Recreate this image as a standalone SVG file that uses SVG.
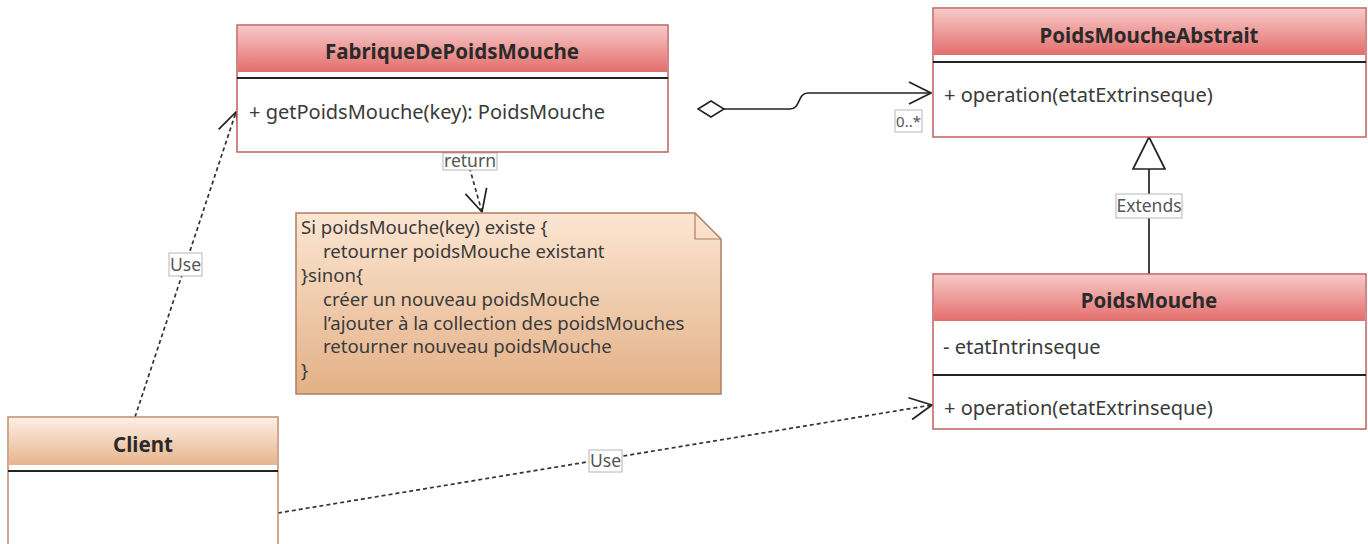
<svg xmlns="http://www.w3.org/2000/svg" width="1368" height="544" viewBox="0 0 1368 544">
  <defs>
    <linearGradient id="gRed" x1="0" y1="0" x2="0" y2="1">
      <stop offset="0" stop-color="#f6c9c8"/>
      <stop offset="1" stop-color="#e46e6c"/>
    </linearGradient>
    <linearGradient id="gTan" x1="0" y1="0" x2="0" y2="1">
      <stop offset="0" stop-color="#fcefe5"/>
      <stop offset="1" stop-color="#e6b48b"/>
    </linearGradient>
    <linearGradient id="gNote" x1="0" y1="0" x2="0" y2="1">
      <stop offset="0" stop-color="#fce6d2"/>
      <stop offset="1" stop-color="#e3b086"/>
    </linearGradient>
    <marker id="open" viewBox="0 0 24 24" refX="23" refY="12" markerWidth="24" markerHeight="24" markerUnits="userSpaceOnUse" orient="auto">
      <path d="M1 1 L23 12 L1 23" fill="none" stroke="#222" stroke-width="1.7"/>
    </marker>
    <marker id="diamond" viewBox="0 0 30 18" refX="1" refY="9" markerWidth="30" markerHeight="18" markerUnits="userSpaceOnUse" orient="auto">
      <path d="M1 9 L14 1 L27 9 L14 17 Z" fill="#fff" stroke="#222" stroke-width="1.5"/>
    </marker>
    <marker id="tri" viewBox="0 0 34 34" refX="33" refY="17" markerWidth="34" markerHeight="34" markerUnits="userSpaceOnUse" orient="auto">
      <path d="M1 1 L33 17 L1 33 Z" fill="#fff" stroke="#222" stroke-width="1.7"/>
    </marker>
  </defs>
  <style>
    text { font-family: "Noto Sans", "Open Sans", sans-serif; fill: #333; }
    .title { font-weight: bold; font-size: 20.5px; text-anchor: middle; fill: #2a2a2a; }
    .member { font-size: 20px; fill: #3a3a3a; }
    .note { font-size: 18.6px; fill: #3a3a3a; }
    .lbl { font-size: 17.5px; fill: #555; text-anchor: middle; }
    .mult { font-size: 15px; fill: #555; text-anchor: middle; }
    .box { fill: #fff; stroke: #c0605e; stroke-width: 1.5; }
    .hdr { fill: url(#gRed); }
    .cbox { fill: #fff; stroke: #c48a6c; stroke-width: 1.5; }
    .chdr { fill: url(#gTan); }
    .sep { stroke: #222; stroke-width: 2; }
    .lblbox { fill: #fff; stroke: #b5b5b5; stroke-width: 1; }
    .dash { fill: none; stroke: #333; stroke-width: 1.7; stroke-dasharray: 4 3; }
    .solid { fill: none; stroke: #222; stroke-width: 1.7; }
  </style>

  <g id="connectors">
    <path class="solid" d="M698 109 L790 109 C801 109 797 93 808 93 L931 93" marker-start="url(#diamond)" marker-end="url(#open)"/>
    <rect class="lblbox" x="895" y="110" width="27" height="22"/>
    <text class="mult" x="908.5" y="127">0..*</text>

    <path class="solid" d="M1149 274 L1149 137" marker-end="url(#tri)"/>
    <rect class="lblbox" x="1116" y="194" width="66" height="24"/>
    <text class="lbl" x="1149" y="212">Extends</text>

    <path class="dash" d="M460 134 L482 212" marker-end="url(#open)"/>
    <rect class="lblbox" x="443" y="153" width="54" height="17"/>
    <text class="lbl" x="470" y="167">return</text>

    <path class="dash" d="M135 417 L236 112" marker-end="url(#open)"/>
    <rect class="lblbox" x="169" y="253" width="33" height="23"/>
    <text class="lbl" x="185.5" y="271">Use</text>

    <path class="dash" d="M278 513 L932 405" marker-end="url(#open)"/>
    <rect class="lblbox" x="589" y="450" width="33" height="22"/>
    <text class="lbl" x="605.5" y="467">Use</text>
  </g>

  <g id="FabriqueDePoidsMouche">
    <rect class="box" x="237" y="25" width="431" height="127"/>
    <rect class="hdr" x="238" y="26" width="429" height="46"/>
    <line class="sep" x1="237" y1="78" x2="668" y2="78"/>
    <text class="title" x="452" y="59">FabriqueDePoidsMouche</text>
    <text class="member" x="249" y="119">+ getPoidsMouche(key): PoidsMouche</text>
  </g>

  <g id="PoidsMoucheAbstrait">
    <rect class="box" x="933" y="8" width="433" height="129"/>
    <rect class="hdr" x="934" y="9" width="431" height="46"/>
    <line class="sep" x1="933" y1="62" x2="1366" y2="62"/>
    <text class="title" x="1149" y="43">PoidsMoucheAbstrait</text>
    <text class="member" x="944" y="102">+ operation(etatExtrinseque)</text>
  </g>

  <g id="PoidsMouche">
    <rect class="box" x="933" y="274" width="433" height="155"/>
    <rect class="hdr" x="934" y="275" width="431" height="46"/>
    <line class="sep" x1="933" y1="375" x2="1366" y2="375"/>
    <text class="title" x="1149" y="308">PoidsMouche</text>
    <text class="member" x="943" y="354">- etatIntrinseque</text>
    <text class="member" x="944" y="415">+ operation(etatExtrinseque)</text>
  </g>

  <g id="Client">
    <rect class="cbox" x="8" y="417" width="270" height="150"/>
    <rect class="chdr" x="9" y="418" width="268" height="47"/>
    <line class="sep" x1="8" y1="471" x2="278" y2="471"/>
    <text class="title" x="143" y="452">Client</text>
  </g>

  <g id="Note">
    <path d="M296 213 L695 213 L721 239 L721 394 L296 394 Z" fill="url(#gNote)" stroke="#b07e62" stroke-width="1.5"/>
    <path d="M695 213 L695 239 L721 239" fill="none" stroke="#b07e62" stroke-width="1.2"/>
    <text class="note" x="301" y="234">Si poidsMouche(key) existe {</text>
    <text class="note" x="323" y="258">retourner poidsMouche existant</text>
    <text class="note" x="301" y="282">}sinon{</text>
    <text class="note" x="323" y="306">créer un nouveau poidsMouche</text>
    <text class="note" x="323" y="330">l’ajouter à la collection des poidsMouches</text>
    <text class="note" x="323" y="353">retourner nouveau poidsMouche</text>
    <text class="note" x="301" y="377">}</text>
  </g>
</svg>
